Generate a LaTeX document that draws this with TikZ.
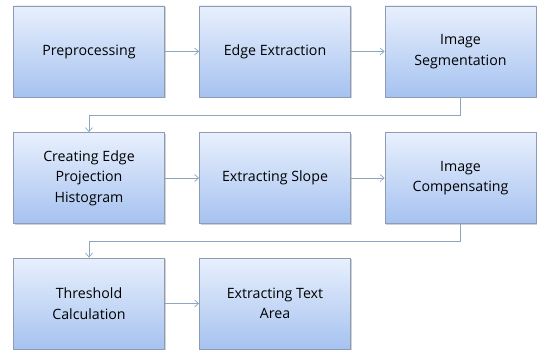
\documentclass[tikz,border=0pt]{standalone}
\usepackage{fontspec}
\setmainfont{Open Sans}
\usetikzlibrary{arrows.meta,shadows}
\definecolor{boxtop}{HTML}{E8F0FD}
\definecolor{boxbot}{HTML}{A6C2F0}
\definecolor{boxline}{HTML}{8E9BB3}
\definecolor{arrowc}{HTML}{8CA6C2}
\tikzset{
  stepbox/.style={draw=boxline, line width=0.8pt, top color=boxtop, bottom color=boxbot,
    minimum width=151pt, minimum height=91pt, align=center, inner sep=2pt,
    font=\fontsize{14.2}{20.5}\selectfont,
    drop shadow={shadow xshift=1.2pt, shadow yshift=-1.2pt, fill=black, opacity=0.18}},
  conn/.style={draw=arrowc, line width=0.7pt, -{Straight Barb[length=4pt,width=7pt]}}
}
\begin{document}
\begin{tikzpicture}[x=1pt,y=-1pt]
\useasboundingbox (0,0) rectangle (537,352);
\node[stepbox] (a) at (89,51.5) {Preprocessing};
\node[stepbox] (b) at (275,51.5) {Edge Extraction};
\node[stepbox] (c) at (460.5,51.5) {Image\\Segmentation};
\node[stepbox] (d) at (89,178) {Creating Edge\\Projection\\Histogram};
\node[stepbox] (e) at (275,178) {Extracting Slope};
\node[stepbox] (f) at (460.5,178) {Image\\Compensating};
\node[stepbox] (g) at (89,303.5) {Threshold\\Calculation};
\node[stepbox] (h) at (275,303.5) {Extracting Text\\Area};
\draw[conn] (a) -- (b);
\draw[conn] (b) -- (c);
\draw[conn] (d) -- (e);
\draw[conn] (e) -- (f);
\draw[conn] (g) -- (h);
\draw[conn] (c.south) |- (89,115) -- (d.north);
\draw[conn] (f.south) |- (89,241) -- (g.north);
\end{tikzpicture}
\end{document}
